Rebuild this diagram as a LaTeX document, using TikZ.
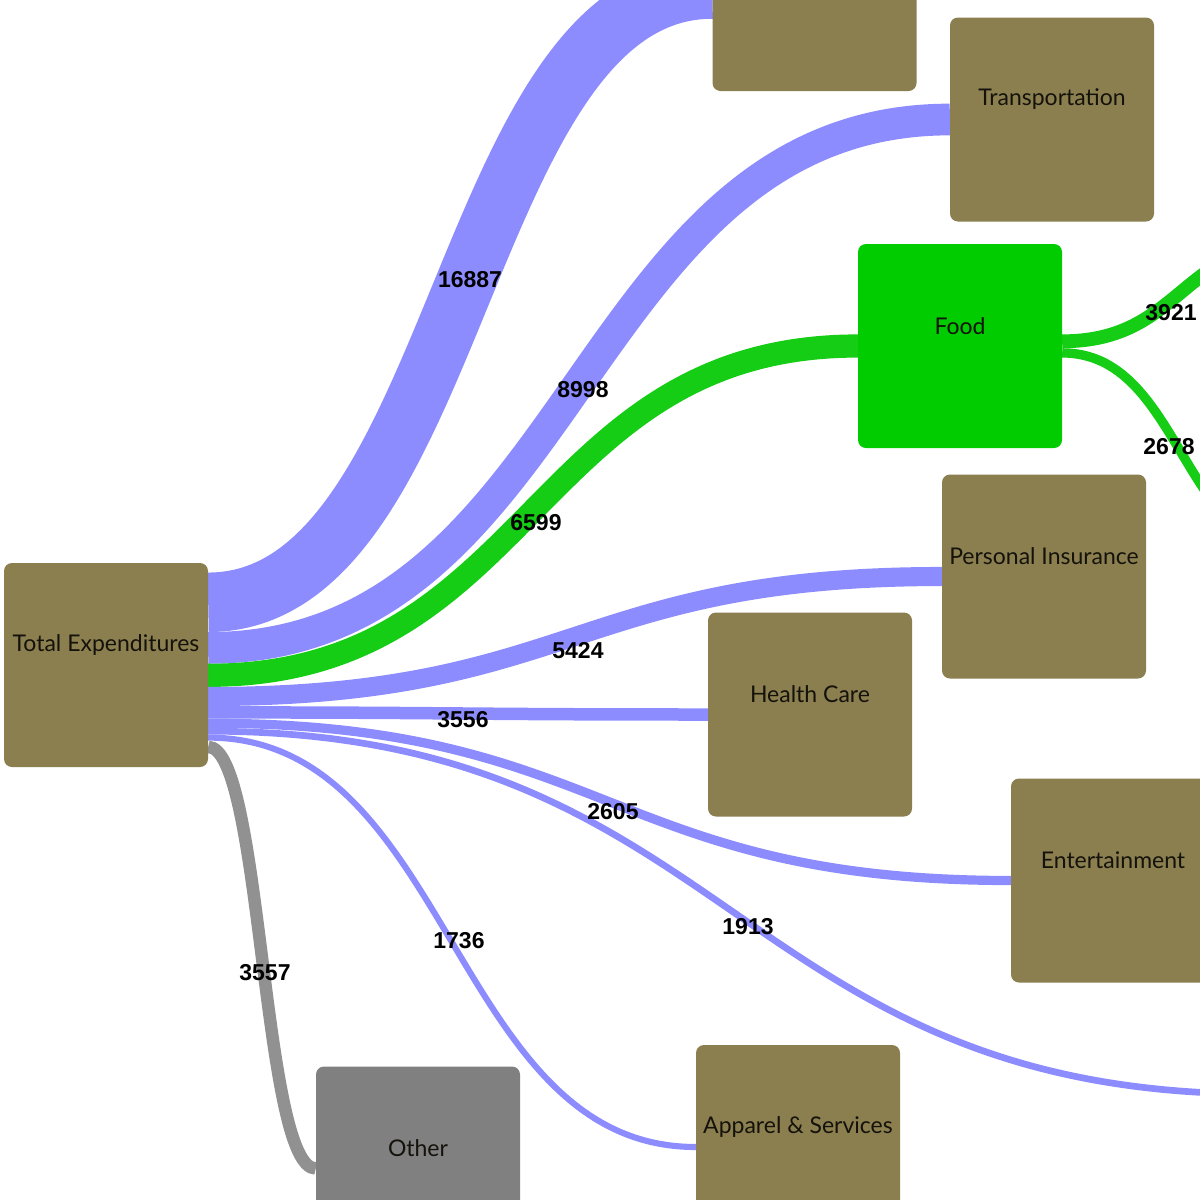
\documentclass[tikz,border=0pt]{standalone}
\usepackage{fontspec}
\setmainfont{Lato}
\newfontfamily\numfont{Liberation Sans}
\usetikzlibrary{calc}
\pgfdeclarelayer{bg}
\pgfsetlayers{bg,main}
\definecolor{brownbox}{RGB}{139,127,80}
\definecolor{foodgreen}{RGB}{0,204,0}
\definecolor{othergray}{RGB}{128,128,128}
\definecolor{linkblue}{RGB}{140,140,255}
\definecolor{linkgreen}{RGB}{20,205,20}
\definecolor{linkgray}{RGB}{145,145,145}
\definecolor{textcol}{RGB}{20,18,10}
\begin{document}
\begin{tikzpicture}[x=1pt,y=-1pt,
  box/.style={rectangle, rounded corners=8pt, minimum width=204pt, minimum height=204pt, inner sep=0pt, fill=brownbox, draw=none},
  nlabel/.style={anchor=base, yshift=20pt, font=\fontsize{23}{23}\selectfont, text=textcol, inner sep=0pt},
  link/.style={draw=linkblue, line cap=butt},
  vlabel/.style={font=\numfont\bfseries\fontsize{23}{23}\selectfont, text=black, inner sep=0pt}
]
\useasboundingbox (0,0) rectangle (1200,1200);
\clip (0,0) rectangle (1200,1200);

% nodes
\node[box, label={[nlabel]center:Total Expenditures}] (te) at (106,665) {};
\node[box] (housing) at (814.5,-11) {};
\node[box, label={[nlabel]center:Transportation}] (trans) at (1052,119.5) {};
\node[box, fill=foodgreen, label={[nlabel]center:Food}] (food) at (960,346) {};
\node[box, label={[nlabel]center:Personal Insurance}] (pi) at (1044,576.5) {};
\node[box, label={[nlabel]center:Health Care}] (hc) at (810,714.5) {};
\node[box, label={[nlabel]center:Entertainment}] (ent) at (1113,880.5) {};
\node[box, label={[nlabel]center:Apparel \& Services}] (app) at (798,1147) {};
\node[box, fill=othergray, label={[nlabel]center:Other}] (other) at (418,1168.5) {};

% free ends (targets outside the picture)
\coordinate (misc) at (1260,1094);
\coordinate (fa) at (1300,243);
\coordinate (fb) at (1300,552);

% link start points
\coordinate (s1) at ($(te.east)+(0,-62.7)$);
\coordinate (s2) at ($(te.east)+(0,-17.1)$);
\coordinate (s3) at ($(te.east)+(0,10.3)$);
\coordinate (s4) at ($(te.east)+(0,31.5)$);
\coordinate (s5) at ($(te.east)+(0,47.4)$);
\coordinate (s6) at ($(te.east)+(0,58.2)$);
\coordinate (s7) at ($(te.east)+(0,66.2)$);
\coordinate (s8) at ($(te.east)+(0,72.6)$);
\coordinate (s9) at ($(te.east)+(0,81.9)$);
\coordinate (fs1) at ($(food.east)+(0,-4.7)$);
\coordinate (fs2) at ($(food.east)+(0,6.9)$);

\begin{pgfonlayer}{bg}
\fill[white] (0,0) rectangle (1200,1200);
\draw[link, line width=59.5pt] (s1) .. controls ($(s1)+(252,0)$) and ($(housing.west)+(-252,0)$) .. (housing.west);
\draw[link, line width=31.7pt] (s2) .. controls ($(s2)+(371,0)$) and ($(trans.west)+(-371,0)$) .. (trans.west);
\draw[link, draw=linkgreen, line width=23.2pt] (s3) .. controls ($(s3)+(325,0)$) and ($(food.west)+(-325,0)$) .. (food.west);
\draw[link, line width=19.1pt] (s4) .. controls ($(s4)+(367,0)$) and ($(pi.west)+(-367,0)$) .. (pi.west);
\draw[link, line width=12.5pt] (s5) .. controls ($(s5)+(250,0)$) and ($(hc.west)+(-250,0)$) .. (hc.west);
\draw[link, line width=9.2pt] (s6) .. controls ($(s6)+(401.5,0)$) and ($(ent.west)+(-401.5,0)$) .. (ent.west);
\draw[link, line width=6.7pt] (s7) .. controls ($(s7)+(526,0)$) and ($(misc)+(-526,0)$) .. (misc);
\draw[link, line width=6.1pt] (s8) .. controls ($(s8)+(244,0)$) and ($(app.west)+(-244,0)$) .. (app.west);
\draw[link, draw=linkgray, line width=12.5pt] (s9) .. controls ($(s9)+(54,0)$) and ($(other.west)+(-54,0)$) .. (other.west);
\draw[link, draw=linkgreen, line width=13.8pt] (fs1) .. controls ($(fs1)+(119,0)$) and ($(fa)+(-119,0)$) .. (fa);
\draw[link, draw=linkgreen, line width=9.4pt] (fs2) .. controls ($(fs2)+(119,0)$) and ($(fb)+(-119,0)$) .. (fb);
\end{pgfonlayer}

% link values
\node[vlabel] (v1) at (470,280) {16887};
\node[vlabel] (v2) at (583,390) {8998};
\node[vlabel] (v3) at (536,523) {6599};
\node[vlabel] (v4) at (578,651) {5424};
\node[vlabel] (v5) at (463,720) {3556};
\node[vlabel] (v6) at (613,812) {2605};
\node[vlabel] (v7) at (748,927) {1913};
\node[vlabel] (v8) at (459,941) {1736};
\node[vlabel] (v9) at (265,973) {3557};
\node[vlabel] (v10) at (1171,313) {3921};
\node[vlabel] (v11) at (1169,447) {2678};
\end{tikzpicture}
\end{document}
